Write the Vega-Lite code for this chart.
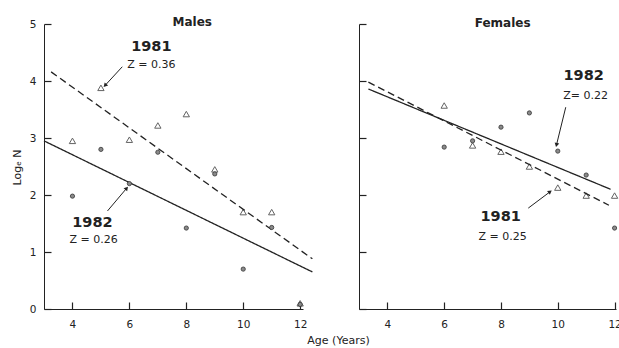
{
  "$schema": "https://vega.github.io/schema/vega-lite/v6.json",
  "autosize": {"type": "pad"},
  "padding": {"left": 11, "top": 16, "right": 0, "bottom": 30},
  "background": "white",
  "bounds": "flush",
  "spacing": 56,
  "config": {
    "view": {"stroke": null},
    "font": "DejaVu Sans",
    "axis": {
      "domainColor": "#222",
      "domainWidth": 1,
      "tickColor": "#222",
      "tickWidth": 1.2,
      "tickSize": -7,
      "labelColor": "#222",
      "labelFontSize": 10.5,
      "labelPadding": 15,
      "grid": false,
      "titleColor": "#222",
      "titleFontWeight": "normal",
      "titleFontSize": 11,
      "format": "d"
    },
    "axisX": {"labelPadding": 17}
  },
  "datasets": {
    "pts": [
      {"sex": "M", "year": "1981", "age": 4, "logN": 2.95},
      {"sex": "M", "year": "1981", "age": 5, "logN": 3.88},
      {"sex": "M", "year": "1981", "age": 6, "logN": 2.97},
      {"sex": "M", "year": "1981", "age": 7, "logN": 3.22},
      {"sex": "M", "year": "1981", "age": 8, "logN": 3.42},
      {"sex": "M", "year": "1981", "age": 9, "logN": 2.45},
      {"sex": "M", "year": "1981", "age": 10, "logN": 1.7},
      {"sex": "M", "year": "1981", "age": 11, "logN": 1.7},
      {"sex": "M", "year": "1981", "age": 12, "logN": 0.1},
      {"sex": "M", "year": "1982", "age": 4, "logN": 1.98},
      {"sex": "M", "year": "1982", "age": 5, "logN": 2.8},
      {"sex": "M", "year": "1982", "age": 6, "logN": 2.2},
      {"sex": "M", "year": "1982", "age": 7, "logN": 2.75},
      {"sex": "M", "year": "1982", "age": 8, "logN": 1.42},
      {"sex": "M", "year": "1982", "age": 9, "logN": 2.37},
      {"sex": "M", "year": "1982", "age": 10, "logN": 0.7},
      {"sex": "M", "year": "1982", "age": 11, "logN": 1.43},
      {"sex": "M", "year": "1982", "age": 12, "logN": 0.08},
      {"sex": "F", "year": "1981", "age": 6, "logN": 3.57},
      {"sex": "F", "year": "1981", "age": 7, "logN": 2.87},
      {"sex": "F", "year": "1981", "age": 8, "logN": 2.76},
      {"sex": "F", "year": "1981", "age": 9, "logN": 2.5},
      {"sex": "F", "year": "1981", "age": 10, "logN": 2.13},
      {"sex": "F", "year": "1981", "age": 11, "logN": 1.99},
      {"sex": "F", "year": "1981", "age": 12, "logN": 1.99},
      {"sex": "F", "year": "1982", "age": 6, "logN": 2.84},
      {"sex": "F", "year": "1982", "age": 7, "logN": 2.95},
      {"sex": "F", "year": "1982", "age": 8, "logN": 3.19},
      {"sex": "F", "year": "1982", "age": 9, "logN": 3.44},
      {"sex": "F", "year": "1982", "age": 10, "logN": 2.77},
      {"sex": "F", "year": "1982", "age": 11, "logN": 2.35},
      {"sex": "F", "year": "1982", "age": 12, "logN": 1.42}
    ],
    "fits": [
      {"sex": "M", "year": "1981", "age": 3.25, "logN": 4.16},
      {"sex": "M", "year": "1981", "age": 12.43, "logN": 0.88},
      {"sex": "M", "year": "1982", "age": 3.0, "logN": 2.95},
      {"sex": "M", "year": "1982", "age": 12.43, "logN": 0.65},
      {"sex": "F", "year": "1981", "age": 3.33, "logN": 3.98},
      {"sex": "F", "year": "1981", "age": 11.8, "logN": 1.82},
      {"sex": "F", "year": "1982", "age": 3.33, "logN": 3.86},
      {"sex": "F", "year": "1982", "age": 11.86, "logN": 2.1}
    ],
    "arrows": [
      {"sex": "M", "x": 5.75, "y": 4.25, "x2": 5.16, "y2": 3.93},
      {"sex": "M", "x": 5.23, "y": 1.72, "x2": 5.89, "y2": 2.11},
      {"sex": "F", "x": 10.28, "y": 3.54, "x2": 9.96, "y2": 2.89},
      {"sex": "F", "x": 8.96, "y": 1.77, "x2": 9.71, "y2": 2.05}
    ],
    "heads": [
      {"sex": "M", "x": 6.77, "y": 4.6, "label": "1981"},
      {"sex": "M", "x": 4.7, "y": 1.51, "label": "1982"},
      {"sex": "F", "x": 10.91, "y": 4.08, "label": "1982"},
      {"sex": "F", "x": 7.99, "y": 1.61, "label": "1981"}
    ],
    "zs": [
      {"sex": "M", "x": 6.77, "y": 4.28, "label": "Z = 0.36"},
      {"sex": "M", "x": 4.74, "y": 1.21, "label": "Z = 0.26"},
      {"sex": "F", "x": 10.98, "y": 3.74, "label": "Z= 0.22"},
      {"sex": "F", "x": 8.06, "y": 1.26, "label": "Z = 0.25"}
    ],
    "titles": [
      {"sex": "M", "x": 8.21, "y": 5.03, "label": "Males"},
      {"sex": "F", "x": 8.06, "y": 5.02, "label": "Females"}
    ]
  },
  "hconcat": [
    {
      "width": 259,
      "height": 285,
      "layer": [
        {
          "data": {"name": "fits"},
          "transform": [{"filter": "datum.sex == 'M'"}],
          "mark": {"type": "line", "color": "#222", "strokeWidth": 1.3},
          "encoding": {
            "x": {"field": "age", "type": "quantitative", "scale": {"domain": [3, 12.1], "nice": false, "zero": false},
              "axis": {"values": [4, 5, 6, 7, 8, 9, 10, 11, 12], "labelExpr": "datum.value % 2 == 0 ? datum.label : ''", "title": "Age (Years)", "titleX": 294, "titleY": 31, "titleAlign": "center", "titleBaseline": "middle"}},
            "y": {"field": "logN", "type": "quantitative", "scale": {"domain": [0, 5], "nice": false, "zero": false},
              "axis": {"values": [0, 1, 2, 3, 4, 5], "title": "Logₑ N", "titleX": -27, "titleY": 143, "titleAlign": "center", "titleBaseline": "middle"}},
            "detail": {"field": "year"},
            "strokeDash": {"field": "year", "type": "nominal", "scale": {"domain": ["1981", "1982"], "range": [[7, 4], [1, 0]]}, "legend": null}
          }
        },
        {
          "data": {"name": "pts"},
          "transform": [{"filter": "datum.sex == 'M' && datum.year == '1981'"}],
          "mark": {"type": "point", "shape": "triangle-up", "filled": false, "stroke": "#222", "strokeWidth": 1, "size": 40},
          "encoding": {"x": {"field": "age", "type": "quantitative"}, "y": {"field": "logN", "type": "quantitative"}}
        },
        {
          "data": {"name": "pts"},
          "transform": [{"filter": "datum.sex == 'M' && datum.year == '1982'"}],
          "mark": {"type": "point", "shape": "circle", "filled": true, "fill": "#8a8a8a", "stroke": "#333", "strokeWidth": 0.8, "size": 18, "opacity": 1},
          "encoding": {"x": {"field": "age", "type": "quantitative"}, "y": {"field": "logN", "type": "quantitative"}}
        },
        {
          "data": {"name": "arrows"},
          "transform": [{"filter": "datum.sex == 'M'"}],
          "mark": {"type": "rule", "color": "#222", "strokeWidth": 1},
          "encoding": {"x": {"field": "x", "type": "quantitative"}, "y": {"field": "y", "type": "quantitative"}, "x2": {"field": "x2"}, "y2": {"field": "y2"}}
        },
        {
          "data": {"name": "arrows"},
          "transform": [{"filter": "datum.sex == 'M'"}, {"calculate": "atan2((datum.x2 - datum.x) * 28.5, (datum.y2 - datum.y) * 57) * 180 / PI", "as": "ang"}],
          "mark": {"type": "point", "shape": "triangle", "filled": true, "color": "#222", "size": 22, "opacity": 1},
          "encoding": {"x": {"field": "x2", "type": "quantitative"}, "y": {"field": "y2", "type": "quantitative"}, "angle": {"field": "ang", "type": "quantitative", "scale": null}}
        },
        {
          "data": {"name": "heads"},
          "transform": [{"filter": "datum.sex == 'M'"}],
          "mark": {"type": "text", "fontWeight": "bold", "fontSize": 14.5, "color": "#222", "baseline": "middle"},
          "encoding": {"x": {"field": "x", "type": "quantitative"}, "y": {"field": "y", "type": "quantitative"}, "text": {"field": "label"}}
        },
        {
          "data": {"name": "zs"},
          "transform": [{"filter": "datum.sex == 'M'"}],
          "mark": {"type": "text", "fontSize": 11, "color": "#222", "baseline": "middle"},
          "encoding": {"x": {"field": "x", "type": "quantitative"}, "y": {"field": "y", "type": "quantitative"}, "text": {"field": "label"}}
        },
        {
          "data": {"name": "titles"},
          "transform": [{"filter": "datum.sex == 'M'"}],
          "mark": {"type": "text", "fontWeight": "bold", "fontSize": 12, "color": "#222", "baseline": "middle"},
          "encoding": {"x": {"field": "x", "type": "quantitative"}, "y": {"field": "y", "type": "quantitative"}, "text": {"field": "label"}}
        }
      ]
    },
    {
      "width": 257,
      "height": 285,
      "layer": [
        {
          "data": {"name": "fits"},
          "transform": [{"filter": "datum.sex == 'F'"}],
          "mark": {"type": "line", "color": "#222", "strokeWidth": 1.3},
          "encoding": {
            "x": {"field": "age", "type": "quantitative", "scale": {"domain": [3, 12.05], "nice": false, "zero": false},
              "axis": {"values": [4, 5, 6, 7, 8, 9, 10, 11, 12], "labelExpr": "datum.value % 2 == 0 ? datum.label : ''", "title": null}},
            "y": {"field": "logN", "type": "quantitative", "scale": {"domain": [0, 5], "nice": false, "zero": false},
              "axis": {"values": [0, 1, 2, 3, 4, 5], "labels": false, "title": null}},
            "detail": {"field": "year"},
            "strokeDash": {"field": "year", "type": "nominal", "scale": {"domain": ["1981", "1982"], "range": [[7, 4], [1, 0]]}, "legend": null}
          }
        },
        {
          "data": {"name": "pts"},
          "transform": [{"filter": "datum.sex == 'F' && datum.year == '1981'"}],
          "mark": {"type": "point", "shape": "triangle-up", "filled": false, "stroke": "#222", "strokeWidth": 1, "size": 40},
          "encoding": {"x": {"field": "age", "type": "quantitative"}, "y": {"field": "logN", "type": "quantitative"}}
        },
        {
          "data": {"name": "pts"},
          "transform": [{"filter": "datum.sex == 'F' && datum.year == '1982'"}],
          "mark": {"type": "point", "shape": "circle", "filled": true, "fill": "#8a8a8a", "stroke": "#333", "strokeWidth": 0.8, "size": 18, "opacity": 1},
          "encoding": {"x": {"field": "age", "type": "quantitative"}, "y": {"field": "logN", "type": "quantitative"}}
        },
        {
          "data": {"name": "arrows"},
          "transform": [{"filter": "datum.sex == 'F'"}],
          "mark": {"type": "rule", "color": "#222", "strokeWidth": 1},
          "encoding": {"x": {"field": "x", "type": "quantitative"}, "y": {"field": "y", "type": "quantitative"}, "x2": {"field": "x2"}, "y2": {"field": "y2"}}
        },
        {
          "data": {"name": "arrows"},
          "transform": [{"filter": "datum.sex == 'F'"}, {"calculate": "atan2((datum.x2 - datum.x) * 28.4, (datum.y2 - datum.y) * 57) * 180 / PI", "as": "ang"}],
          "mark": {"type": "point", "shape": "triangle", "filled": true, "color": "#222", "size": 22, "opacity": 1},
          "encoding": {"x": {"field": "x2", "type": "quantitative"}, "y": {"field": "y2", "type": "quantitative"}, "angle": {"field": "ang", "type": "quantitative", "scale": null}}
        },
        {
          "data": {"name": "heads"},
          "transform": [{"filter": "datum.sex == 'F'"}],
          "mark": {"type": "text", "fontWeight": "bold", "fontSize": 14.5, "color": "#222", "baseline": "middle"},
          "encoding": {"x": {"field": "x", "type": "quantitative"}, "y": {"field": "y", "type": "quantitative"}, "text": {"field": "label"}}
        },
        {
          "data": {"name": "zs"},
          "transform": [{"filter": "datum.sex == 'F'"}],
          "mark": {"type": "text", "fontSize": 11, "color": "#222", "baseline": "middle"},
          "encoding": {"x": {"field": "x", "type": "quantitative"}, "y": {"field": "y", "type": "quantitative"}, "text": {"field": "label"}}
        },
        {
          "data": {"name": "titles"},
          "transform": [{"filter": "datum.sex == 'F'"}],
          "mark": {"type": "text", "fontWeight": "bold", "fontSize": 12, "color": "#222", "baseline": "middle"},
          "encoding": {"x": {"field": "x", "type": "quantitative"}, "y": {"field": "y", "type": "quantitative"}, "text": {"field": "label"}}
        }
      ]
    }
  ]
}
